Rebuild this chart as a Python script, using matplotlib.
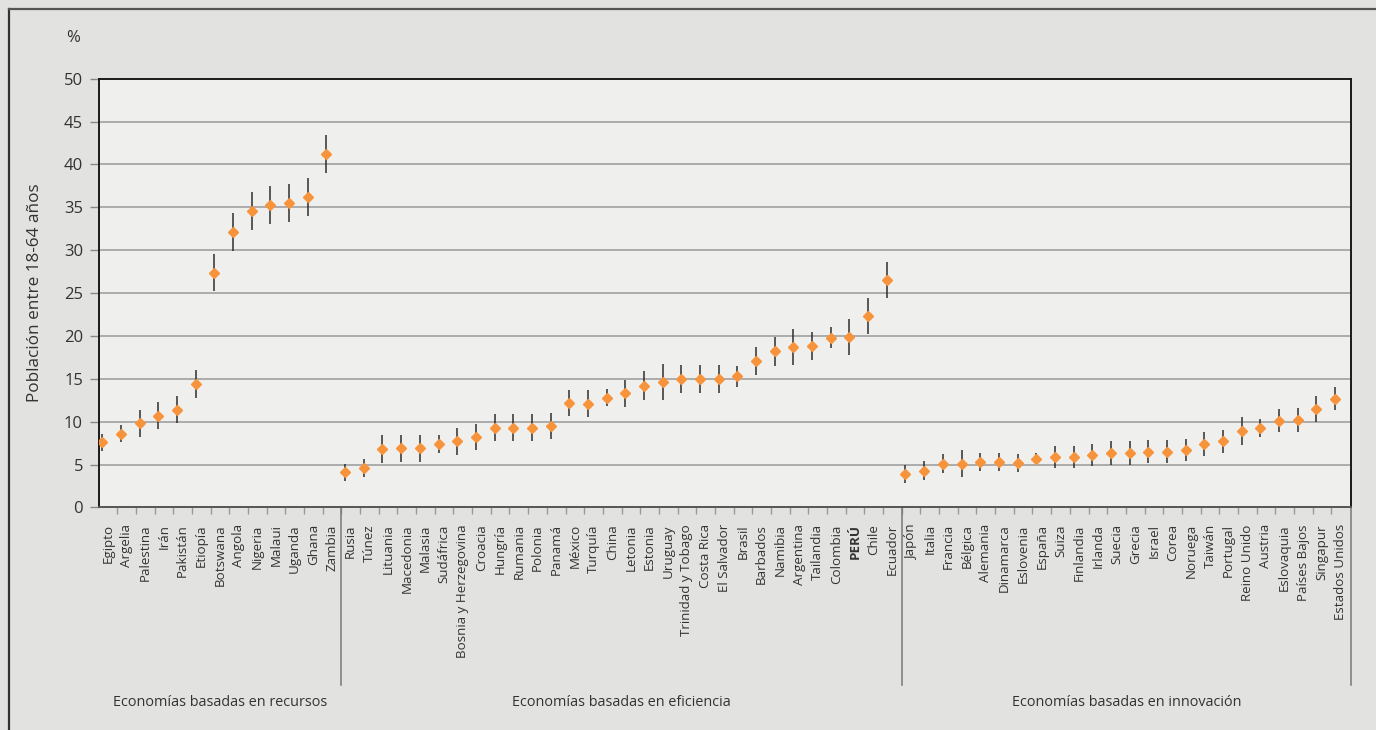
import numpy as np
import matplotlib
matplotlib.use("Agg")
import matplotlib.pyplot as plt
from matplotlib.lines import Line2D
import matplotlib.transforms as mtransforms

plt.rcParams['font.family'] = ['Open Sans', 'DejaVu Sans']

# data
res_names = ["Egipto", "Argelia", "Palestina", "Irán", "Pakistán", "Etiopía", "Botswana",
             "Angola", "Nigeria", "Malaui", "Uganda", "Ghana", "Zambia"]
res_vals = [7.6, 8.6, 9.8, 10.7, 11.4, 14.4, 27.4, 32.1, 34.6, 35.3, 35.5, 36.2, 41.2]
res_err = [1.0, 1.0, 1.6, 1.6, 1.6, 1.6, 2.2, 2.2, 2.2, 2.2, 2.2, 2.2, 2.2]

eff_names = ["Rusia", "Túnez", "Lituania", "Macedonia", "Malasia", "Sudáfrica",
             "Bosnia y Herzegovina", "Croacia", "Hungría", "Rumania", "Polonia", "Panamá",
             "México", "Turquía", "China", "Letonia", "Estonia", "Uruguay", "Trinidad y Tobago",
             "Costa Rica", "El Salvador", "Brasil", "Barbados", "Namibia", "Argentina",
             "Tailandia", "Colombia", "PERÚ", "Chile", "Ecuador"]
eff_vals = [4.1, 4.6, 6.8, 6.9, 6.9, 7.4, 7.7, 8.2, 9.3, 9.3, 9.3, 9.5, 12.2, 12.1, 12.8,
            13.3, 14.2, 14.6, 15.0, 15.0, 15.0, 15.3, 17.1, 18.2, 18.7, 18.8, 19.8, 19.9,
            22.3, 26.5]
eff_err = [1.0, 1.0, 1.6, 1.6, 1.6, 1.0, 1.55, 1.55, 1.55, 1.55, 1.55, 1.55, 1.55, 1.55,
           1.0, 1.55, 1.7, 2.1, 1.65, 1.65, 1.65, 1.25, 1.65, 1.65, 2.1, 1.65, 1.25, 2.1,
           2.1, 2.1]

inn_names = ["Japón", "Italia", "Francia", "Bélgica", "Alemania", "Dinamarca", "Eslovenia",
             "España", "Suiza", "Finlandia", "Irlanda", "Suecia", "Grecia", "Israel", "Corea",
             "Noruega", "Taiwán", "Portugal", "Reino Unido", "Austria", "Eslovaquia",
             "Países Bajos", "Singapur", "Estados Unidos"]
inn_vals = [3.9, 4.3, 5.1, 5.1, 5.3, 5.3, 5.2, 5.7, 5.9, 5.9, 6.1, 6.4, 6.4, 6.5, 6.5, 6.7,
            7.4, 7.7, 8.9, 9.3, 10.1, 10.2, 11.5, 12.7]
inn_err = [1.1, 1.1, 1.1, 1.6, 1.1, 1.1, 1.05, 0.6, 1.3, 1.3, 1.3, 1.4, 1.4, 1.35, 1.35,
           1.3, 1.35, 1.35, 1.6, 1.05, 1.35, 1.35, 1.5, 1.35]

group_labels = ["Economías basadas en recursos", "Economías basadas en eficiencia",
                "Economías basadas en innovación"]

names = res_names + eff_names + inn_names
vals = res_vals + eff_vals + inn_vals
errs = res_err + eff_err + inn_err
x = np.arange(len(names))

text_col = "#333333"

fig = plt.figure(figsize=(13.76, 7.30), dpi=100, facecolor="#e2e2e0")
ax = fig.add_axes([0.0719, 0.3048, 0.9099, 0.5874])
ax.set_facecolor("#efefed")

# outer frame (top + left)
fig.add_artist(Line2D([0.0065, 0.0065], [0.0, 0.9877], color="#333333", lw=1.6))
fig.add_artist(Line2D([0.0065, 1.0], [0.9877, 0.9877], color="#555555", lw=1.6))

ax.set_ylim(0, 50)
ax.set_xlim(-0.18, len(names) - 0.15)
ax.set_yticks(np.arange(0, 51, 5))
for g in range(5, 50, 5):
    ax.axhline(g, color="#9a9a9a", lw=1.1, zorder=1)

ax.errorbar(x, vals, yerr=errs, fmt="none", ecolor="#2e2e2e", elinewidth=1.1, capsize=0, zorder=2)
ax.plot(x, vals, linestyle="none", marker="D", markersize=5.5, color="#f7933b",
        markeredgecolor="#f7933b", zorder=3)

for s in ["left", "top", "right"]:
    ax.spines[s].set_color("#1a1a1a")
    ax.spines[s].set_linewidth(1.4)
ax.spines["bottom"].set_color("#555555")
ax.spines["bottom"].set_linewidth(1.4)

ax.tick_params(axis="y", length=6.5, width=1.0, color="#888888", pad=5,
               labelsize=12, labelcolor=text_col)
ax.set_xticks(x + 0.3)
ax.set_xticklabels(names, rotation=90, fontsize=9.6, color=text_col, va="top")
ax.tick_params(axis="x", length=0, pad=12)
for lbl in ax.get_xticklabels():
    if lbl.get_text() == "PERÚ":
        lbl.set_fontweight("bold")
ax.set_xticks(x[:-1] + 0.8, minor=True)
ax.tick_params(axis="x", which="minor", length=5, width=1.0, color="#999999")

ax.set_ylabel("Población entre 18-64 años", fontsize=12.3, color=text_col)
ax.yaxis.set_label_coords(-0.0445, 0.5)
ax.text(-0.0206, 1.096, "%", transform=ax.transAxes, ha="center", va="center",
        fontsize=12, color=text_col)

# group separators and labels
trans = mtransforms.blended_transform_factory(ax.transData, ax.transAxes)
n1 = len(res_names)
n2 = n1 + len(eff_names)
bounds = [-0.18, n1 - 0.2, n2 - 0.2, len(names) - 0.15]
for b in bounds[1:]:
    ax.plot([b, b], [0, -0.415], color="#777777", lw=1.1, transform=trans, clip_on=False)
for k, lab in enumerate(group_labels):
    cx = (bounds[k] + bounds[k + 1]) / 2
    ax.text(cx, -0.4536, lab, transform=trans, ha="center", va="center",
            fontsize=10.4, color=text_col)

fig.savefig("out.png", dpi=100, facecolor=fig.get_facecolor())
